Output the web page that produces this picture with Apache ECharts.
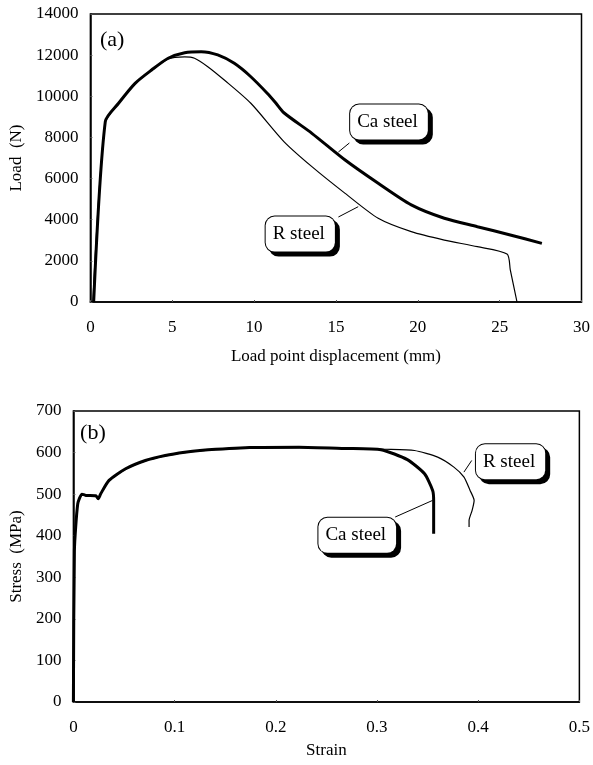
<!DOCTYPE html>
<html><head><meta charset="utf-8">
<script src="https://cdn.jsdelivr.net/npm/echarts@6/dist/echarts.min.js"></script>
<style>html,body{margin:0;padding:0;background:#fff}#c{width:593px;height:765px}</style>
</head><body><div id="c"></div>
<script>
// (a) Load vs load point displacement
const caDisp = [0.2, 0.91, 1.72, 2.73, 3.74, 4.75, 5.76, 6.77, 7.78, 8.79, 9.8, 10.8, 11.3, 11.82, 13.53, 15.56, 17.58, 19.6, 21.62, 23.64, 25.65, 27.58];
const caLoad = [0, 8770, 9660, 10630, 11280, 11850, 12120, 12170, 12010, 11600, 10950, 10150, 9700, 9200, 8200, 6900, 5770, 4720, 4070, 3660, 3260, 2850];
const rDisp  = [0.15, 0.9, 1.72, 2.73, 3.74, 4.75, 5.76, 6.36, 7.17, 8.18, 9.8, 11.82, 13.53, 15.56, 17.58, 19.6, 21.62, 23.64, 25.45, 25.65, 26.06];
const rLoad  = [0, 8700, 9640, 10610, 11260, 11820, 11920, 11850, 11440, 10790, 9660, 7800, 6580, 5280, 4070, 3420, 3010, 2690, 2330, 1560, 0];
// (b) Stress vs strain
const caStrain = [0, 0.001, 0.0043, 0.0085, 0.0124, 0.0222, 0.0245, 0.027, 0.0352, 0.0516, 0.0711, 0.0907, 0.11, 0.125, 0.174, 0.223, 0.268, 0.304, 0.330, 0.347, 0.355, 0.356, 0.356];
const caStress = [0, 365, 477, 500, 497, 496, 489, 501, 533, 561, 581, 593, 601, 605, 612, 613, 610, 607, 583, 549, 509, 485, 405];
const rStrain = [0, 0.001, 0.0043, 0.0085, 0.0124, 0.0222, 0.0245, 0.027, 0.0352, 0.0516, 0.0711, 0.0907, 0.11, 0.125, 0.174, 0.223, 0.268, 0.308, 0.337, 0.36, 0.376, 0.386, 0.392, 0.396, 0.394, 0.391, 0.391];
const rStress = [0, 360, 475, 498, 496, 495, 488, 500, 532, 560, 580, 592, 600, 604, 611, 612, 611, 608, 605, 589, 565, 541, 509, 485, 461, 437, 421];
// callouts: [x, y, text] in data units, leader lines [x1,y1,x2,y2]
const calloutsA = [[18.24, 8750, 'Ca steel'], [12.82, 3300, 'R steel']];
const leadersA = [[15.82, 7730, 15.15, 7292], [15.15, 4132, 16.36, 4633]];
const calloutsB = [[0.432, 578, 'R steel'], [0.2805, 401, 'Ca steel']];
const leadersB = [[0.3936, 581, 0.3859, 553], [0.318, 445, 0.355, 485]];
const tagA = [1.33, 12737, '(a)'];
const tagB = [0.0193, 646, '(b)'];

const FONT = 'Liberation Serif, Times New Roman, serif';
const zip = (a, b) => a.map((v, i) => [v, b[i]]);

function axisCommon(extra) {
  return Object.assign({
    axisLine: { show: true, onZero: false, lineStyle: { color: '#000', width: 1.5 } },
    axisTick: { show: true, inside: true, length: 2, lineStyle: { color: '#555' } },
    splitLine: { show: false },
    axisLabel: { color: '#000', fontFamily: FONT, fontSize: 17, margin: 12, formatter: v => String(v) },
    nameTextStyle: { color: '#000', fontFamily: FONT, fontSize: 17 },
    nameLocation: 'middle'
  }, extra);
}

function calloutSeries(list, xi, yi) {
  return {
    type: 'scatter', xAxisIndex: xi, yAxisIndex: yi, symbolSize: 0, silent: true, z: 10,
    itemStyle: { opacity: 1, color: '#000' },
    data: list.map(c => ({ value: [c[0], c[1]], name: c[2] })),
    label: {
      show: true, position: 'inside', formatter: p => p.name, opacity: 1,
      color: '#000', fontFamily: FONT, fontSize: 19,
      backgroundColor: '#fff', borderColor: '#000', borderWidth: 1, borderRadius: 9,
      padding: [8, 10, 8, 7],
      shadowColor: '#000', shadowOffsetX: 4, shadowOffsetY: 4, shadowBlur: 0
    }
  };
}
function leaderSeries(list, xi, yi) {
  return list.map(l => ({
    type: 'line', xAxisIndex: xi, yAxisIndex: yi, symbol: 'none', silent: true, z: 5,
    lineStyle: { color: '#000', width: 1 },
    data: [[l[0], l[1]], [l[2], l[3]]]
  }));
}
function tagSeries(t, xi, yi) {
  return {
    type: 'scatter', xAxisIndex: xi, yAxisIndex: yi, symbolSize: 0, silent: true,
    itemStyle: { opacity: 1, color: '#000' },
    data: [{ value: [t[0], t[1]], name: t[2] }],
    label: { show: true, position: 'inside', formatter: p => p.name, opacity: 1, color: '#000', fontFamily: FONT, fontSize: 22 }
  };
}

const chart = echarts.init(document.getElementById('c'), null, { renderer: 'canvas' });
chart.setOption({
  backgroundColor: '#fff',
  animation: false,
  grid: [
    { left: 90, top: 14, width: 495, height: 288, show: true, borderColor: '#000', borderWidth: 1.5 },
    { left: 72, top: 411, width: 511, height: 291, show: true, borderColor: '#000', borderWidth: 1.5 }
  ],
  xAxis: [
    axisCommon({ type: 'value', gridIndex: 0, min: 0, max: 30, interval: 5, name: 'Load point displacement (mm)', nameGap: 46,
      axisLabel: { color: '#000', fontFamily: FONT, fontSize: 17, margin: 17, formatter: v => String(v) } }),
    axisCommon({ type: 'value', gridIndex: 1, min: 0, max: 0.5, interval: 0.1, name: 'Strain', nameGap: 40,
      axisLabel: { color: '#000', fontFamily: FONT, fontSize: 17, margin: 17, formatter: v => String(v) } })
  ],
  yAxis: [
    axisCommon({ type: 'value', gridIndex: 0, min: 0, max: 14000, interval: 2000, name: 'Load  (N)', nameGap: 62 }),
    axisCommon({ type: 'value', gridIndex: 1, min: 0, max: 700, interval: 100, name: 'Stress  (MPa)', nameGap: 45 })
  ],
  series: [
    { type: 'line', xAxisIndex: 0, yAxisIndex: 0, symbol: 'none', smooth: 0.25, data: zip(rDisp, rLoad), lineStyle: { color: '#000', width: 1.2 }, z: 3 },
    { type: 'line', xAxisIndex: 0, yAxisIndex: 0, symbol: 'none', smooth: 0.25, data: zip(caDisp, caLoad), lineStyle: { color: '#000', width: 3 }, z: 4 },
    { type: 'line', xAxisIndex: 1, yAxisIndex: 1, symbol: 'none', smooth: 0.2, data: zip(rStrain, rStress), lineStyle: { color: '#000', width: 1.2 }, z: 3 },
    { type: 'line', xAxisIndex: 1, yAxisIndex: 1, symbol: 'none', smooth: 0.2, data: zip(caStrain, caStress), lineStyle: { color: '#000', width: 3 }, z: 4 },
    ...leaderSeries(leadersA, 0, 0),
    ...leaderSeries(leadersB, 1, 1),
    calloutSeries(calloutsA, 0, 0),
    calloutSeries(calloutsB, 1, 1),
    tagSeries(tagA, 0, 0),
    tagSeries(tagB, 1, 1)
  ]
});
</script></body></html>
